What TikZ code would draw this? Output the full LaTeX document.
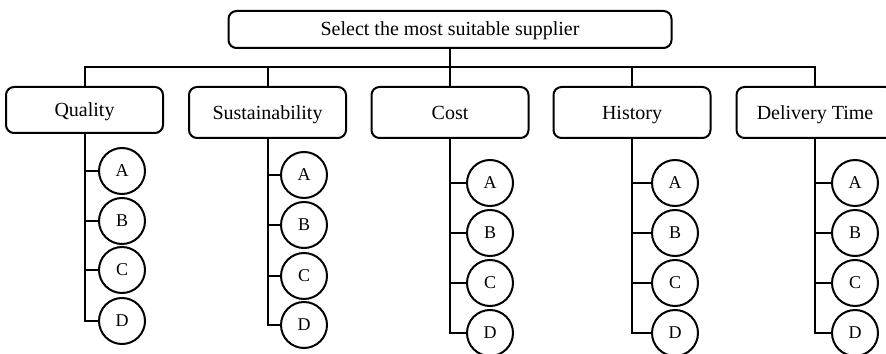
\documentclass[tikz,border=0pt]{standalone}
\usepackage{fontspec}
\setmainfont{Liberation Serif}
\usepackage{tikz}

\tikzset{
  goalbox/.style={draw, line width=1pt, rounded corners=4pt, text height=0.8em, text depth=0.2em, font=\fontsize{10}{12}\selectfont},
  critbox/.style={draw, line width=1pt, rounded corners=4pt, minimum width=78.5pt, text height=0.85em, text depth=0.15em, font=\fontsize{10}{12}\selectfont},
  leaf/.style={draw, circle, line width=1pt, minimum size=23pt, inner sep=0pt, font=\fontsize{9}{11}\selectfont},
  link/.style={line width=1pt}
}

\begin{document}
\begin{tikzpicture}[x=0.5pt, y=0.5pt]
    \useasboundingbox (0,0) rectangle (886,353);

    % Goal
    \node[goalbox, minimum width=221.5pt, minimum height=18.5pt] (goal) at (450,323.5) {Select the most suitable supplier};
    \coordinate (bus) at (449,286);

    % Criteria
    \node[critbox, minimum height=23pt] (quality) at (84.5,243) {Quality};
    \node[critbox, minimum height=25.5pt] (sustain) at (267.5,240.5) {Sustainability};
    \node[critbox, minimum height=25.5pt] (cost) at (450,240.5) {Cost};
    \node[critbox, minimum height=25.5pt] (history) at (632,240.5) {History};
    \node[critbox, minimum height=25.5pt] (delivery) at (815,240.5) {Delivery Time};

    % Goal to criteria
    \draw[link] (goal.south) -- (goal.south |- bus);
    \draw[link] (quality.north) |- (bus) -| (delivery.north);
    \draw[link] (sustain.north) -- (sustain.north |- bus);
    \draw[link] (cost.north) -- (cost.north |- bus);
    \draw[link] (history.north) -- (history.north |- bus);

    % Alternatives under each criterion
    \foreach \l/\y in {A/182,B/132,C/83,D/32}
        \node[leaf] (q\l) at (122,\y) {\l};
    \foreach \l/\y in {A/178,B/128,C/77,D/28}
        \node[leaf] (s\l) at (304,\y) {\l};
    \foreach \l/\y in {A/170,B/120,C/70,D/20} {
        \node[leaf] (c\l) at (490,\y) {\l};
        \node[leaf] (h\l) at (675,\y) {\l};
        \node[leaf] (d\l) at (855,\y) {\l};
    }

    % Brackets
    \draw[link] (quality.south) |- (qD.west);
    \draw[link] (sustain.south) |- (sD.west);
    \draw[link] (cost.south) |- (cD.west);
    \draw[link] (history.south) |- (hD.west);
    \draw[link] (delivery.south) |- (dD.west);
    \foreach \l in {A,B,C} {
        \draw[link] (q\l.west) -- (q\l.west -| quality.south);
        \draw[link] (s\l.west) -- (s\l.west -| sustain.south);
        \draw[link] (c\l.west) -- (c\l.west -| cost.south);
        \draw[link] (h\l.west) -- (h\l.west -| history.south);
        \draw[link] (d\l.west) -- (d\l.west -| delivery.south);
    }
\end{tikzpicture}
\end{document}
